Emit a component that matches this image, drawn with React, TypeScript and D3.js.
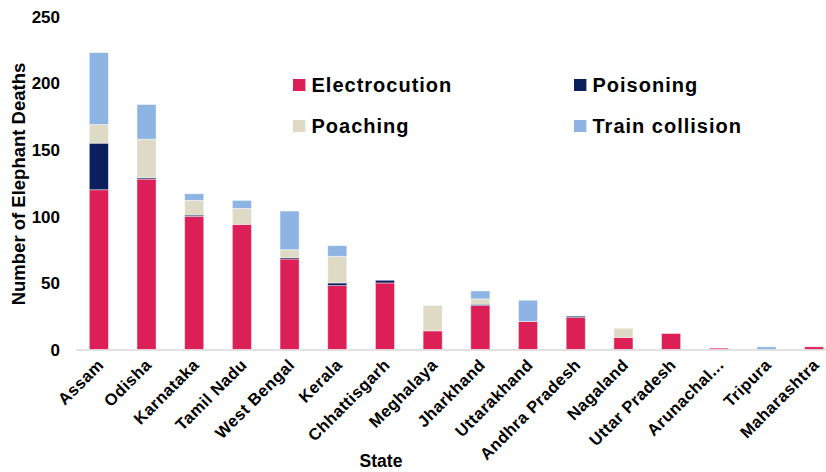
import React from "react";
import * as d3 from "d3";

// Elephant deaths by state and cause
const states = [
  "Assam", "Odisha", "Karnataka", "Tamil Nadu", "West Bengal", "Kerala",
  "Chhattisgarh", "Meghalaya", "Jharkhand", "Uttarakhand", "Andhra Pradesh",
  "Nagaland", "Uttar Pradesh", "Arunachal...", "Tripura", "Maharashtra",
];
const electrocution = [120, 128, 100, 94, 68, 48, 50, 14, 33, 21, 24, 9, 12, 1, 0, 2];
const poisoning = [35, 1, 1, 0, 1, 2, 2, 0, 1, 0, 1, 0, 0, 0, 0, 0];
const poaching = [14, 29, 11, 12, 6, 20, 0, 19, 4, 0, 0, 7, 0, 0, 0, 0];
const trainCollision = [54, 26, 5, 6, 29, 8, 0, 0, 6, 16, 0, 0, 0, 0, 2, 0];
const yTicks = [0, 50, 100, 150, 200, 250];

const causes = ["Electrocution", "Poisoning", "Poaching", "Train collision"];
const colors = ["#DC1F56", "#0B1F5C", "#DEDAC5", "#8EB4E3"];

const W = 826;
const H = 472;
const FONT = "'Liberation Sans', Arial, sans-serif";

export default function App() {
  const rows = states.map((s, i) => ({
    state: s,
    Electrocution: electrocution[i],
    Poisoning: poisoning[i],
    Poaching: poaching[i],
    "Train collision": trainCollision[i],
  }));
  const series = d3.stack<any>().keys(causes)(rows);

  const x = d3
    .scaleBand<string>()
    .domain(states)
    .range([75, 838])
    .paddingInner(0.6)
    .paddingOuter(0.3);
  const y = d3.scaleLinear().domain([0, 250]).range([349.5, 16.7]);

  // legend layout: two columns, two rows
  const legendPos = [
    { x: 293, y: 79 },
    { x: 574, y: 79 },
    { x: 293, y: 120 },
    { x: 574, y: 120 },
  ];

  return (
    <svg
      width={W}
      height={H}
      style={{ position: "absolute", left: 0, top: 0, background: "#fff" }}
      fontFamily={FONT}
    >
      {series.map((s, si) => (
        <g key={s.key} fill={colors[si]}>
          {s.map((d, i) => {
            const h = y(d[0]) - y(d[1]);
            if (h <= 0) return null;
            return (
              <rect
                key={i}
                x={x(states[i])}
                y={y(d[1])}
                width={x.bandwidth()}
                height={h}
                stroke="#ffffff"
                strokeOpacity={0.55}
                strokeWidth={0.8}
              />
            );
          })}
        </g>
      ))}

      {/* category axis line */}
      <line x1={76} x2={838} y1={y(0) + 0.5} y2={y(0) + 0.5} stroke="#D9D9D9" strokeWidth={1.5} />

      {/* y tick labels */}
      {yTicks.map((t) => (
        <text
          key={t}
          x={60}
          y={y(t)}
          dy="0.36em"
          textAnchor="end"
          fontSize={17}
          fontWeight="bold"
          fill="#000"
        >
          {t}
        </text>
      ))}

      {/* x tick labels */}
      {states.map((s) => {
        const cx = (x(s) as number) + x.bandwidth() / 2;
        return (
          <text
            key={s}
            transform={`translate(${cx + 6},${366}) rotate(-45)`}
            textAnchor="end"
            fontSize={16.5}
            fontWeight="bold"
            letterSpacing={0.5}
            fill="#000"
          >
            {s}
          </text>
        );
      })}

      {/* axis titles */}
      <text
        transform={`translate(25,${184}) rotate(-90)`}
        textAnchor="middle"
        fontSize={18.5}
        fontWeight="bold"
        fill="#000"
      >
        Number of Elephant Deaths
      </text>
      <text x={381} y={466.5} textAnchor="middle" fontSize={17.5} fontWeight="bold" fill="#000">
        State
      </text>

      {/* legend */}
      {causes.map((c, i) => (
        <g key={c} transform={`translate(${legendPos[i].x},${legendPos[i].y})`}>
          <rect width={12.4} height={12} fill={colors[i]} />
          <text x={18.5} y={13.3} fontSize={20} fontWeight="bold" letterSpacing={1} fill="#000">
            {c}
          </text>
        </g>
      ))}
    </svg>
  );
}
